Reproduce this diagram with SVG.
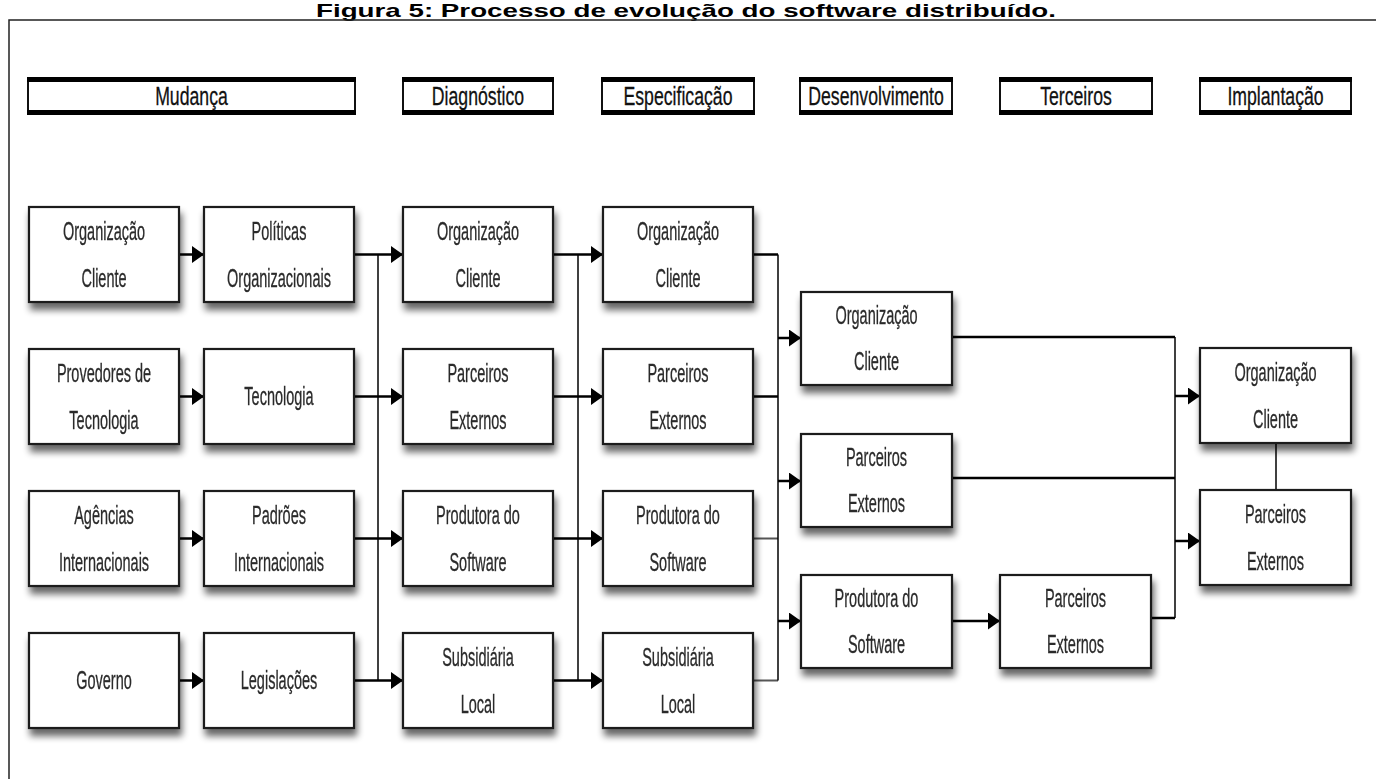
<svg xmlns="http://www.w3.org/2000/svg" width="1376" height="779" viewBox="0 0 1376 779">
<defs>
<filter id="sh" x="-10%" y="-10%" width="125%" height="140%">
<feGaussianBlur in="SourceAlpha" stdDeviation="3.5"/>
<feOffset dx="2" dy="7" result="b"/>
<feComponentTransfer><feFuncA type="linear" slope="0.6"/></feComponentTransfer>
<feMerge><feMergeNode/><feMergeNode in="SourceGraphic"/></feMerge>
</filter>
<marker id="ah" markerUnits="userSpaceOnUse" markerWidth="12" markerHeight="17" refX="12" refY="8.5" orient="auto">
<path d="M0,0 L12,8.5 L0,17 z" fill="#000"/>
</marker>
<style>
.box{fill:#fff;stroke:#1a1a1a;stroke-width:2.2}
.hbox{fill:#fff;stroke:#111;stroke-width:2}
.bar{fill:#000}
.t{font-family:"Liberation Sans",Arial,sans-serif;font-size:25px;fill:#2b2b2b;stroke:#2b2b2b;stroke-width:0.3;text-anchor:middle}
.h{font-family:"Liberation Sans",Arial,sans-serif;font-size:26px;fill:#111;stroke:#111;stroke-width:0.3;text-anchor:middle}
.title{font-family:"Liberation Sans",Arial,sans-serif;font-size:19px;font-weight:bold;fill:#000;text-anchor:middle}
.ln{fill:none;stroke:#000;stroke-width:2.5}
.lg{fill:none;stroke:#555;stroke-width:2}
.bus{fill:none;stroke:#000;stroke-width:1.5}
.arr{fill:none;stroke:#000;stroke-width:2.5;marker-end:url(#ah)}
</style>
</defs>
<rect width="1376" height="779" fill="#fff"/>
<text class="title" x="686" y="17" textLength="740" lengthAdjust="spacingAndGlyphs">Figura 5: Processo de evolução do software distribuído.</text>
<path d="M9,779 V20 H1376" fill="none" stroke="#222" stroke-width="1.5"/>

<g id="headers">
<g id="h-mudanca"><rect class="hbox" x="28" y="80" width="327" height="32"/><rect class="bar" x="27" y="77" width="329" height="5"/><rect class="bar" x="27" y="110" width="329" height="5"/><text class="h" transform="translate(191.5,105) scale(0.68,1)">Mudança</text></g>
<g id="h-diagnostico"><rect class="hbox" x="403" y="80" width="150" height="32"/><rect class="bar" x="402" y="77" width="152" height="5"/><rect class="bar" x="402" y="110" width="152" height="5"/><text class="h" transform="translate(478,105) scale(0.68,1)">Diagnóstico</text></g>
<g id="h-especificacao"><rect class="hbox" x="602" y="80" width="152" height="32"/><rect class="bar" x="601" y="77" width="154" height="5"/><rect class="bar" x="601" y="110" width="154" height="5"/><text class="h" transform="translate(678,105) scale(0.68,1)">Especificação</text></g>
<g id="h-desenvolvimento"><rect class="hbox" x="800" y="80" width="152" height="32"/><rect class="bar" x="799" y="77" width="154" height="5"/><rect class="bar" x="799" y="110" width="154" height="5"/><text class="h" transform="translate(876,105) scale(0.68,1)">Desenvolvimento</text></g>
<g id="h-terceiros"><rect class="hbox" x="1000" y="80" width="152" height="32"/><rect class="bar" x="999" y="77" width="154" height="5"/><rect class="bar" x="999" y="110" width="154" height="5"/><text class="h" transform="translate(1076,105) scale(0.68,1)">Terceiros</text></g>
<g id="h-implantacao"><rect class="hbox" x="1200" y="80" width="151" height="32"/><rect class="bar" x="1199" y="77" width="153" height="5"/><rect class="bar" x="1199" y="110" width="153" height="5"/><text class="h" transform="translate(1275.5,105) scale(0.68,1)">Implantação</text></g>
</g>

<g id="connectors">
<path class="arr" d="M179,254.5 H204"/>
<path class="arr" d="M179,396.5 H204"/>
<path class="arr" d="M179,538.5 H204"/>
<path class="arr" d="M179,680.5 H204"/>
<path class="bus" d="M378,254.5 V680.5"/>
<path class="arr" d="M354,254.5 H403"/>
<path class="arr" d="M354,396.5 H403"/>
<path class="arr" d="M354,538.5 H403"/>
<path class="arr" d="M354,680.5 H403"/>
<path class="bus" d="M578,254.5 V680.5"/>
<path class="arr" d="M553,254.5 H603"/>
<path class="arr" d="M553,396.5 H603"/>
<path class="arr" d="M553,538.5 H603"/>
<path class="arr" d="M553,680.5 H603"/>
<path class="ln" d="M753,254.5 H778"/>
<path class="ln" d="M753,396.5 H778"/>
<path class="lg" d="M753,538.5 H778"/>
<path class="lg" d="M753,680.5 H778"/>
<path class="bus" d="M778,254.5 V680.5"/>
<path class="arr" d="M778,338 H801"/>
<path class="arr" d="M778,481 H801"/>
<path class="arr" d="M778,621 H801"/>
<path class="arr" d="M952,621 H1000"/>
<path class="ln" d="M952,337 H1175"/>
<path class="ln" d="M952,478 H1175"/>
<path class="ln" d="M1151,618 H1175"/>
<path class="bus" d="M1175,337 V618"/>
<path class="arr" d="M1175,396 H1200"/>
<path class="arr" d="M1175,541 H1200"/>
<path class="bus" d="M1276,443 V490" stroke-width="1.2"/>
</g>

<g id="n-c1-org" filter="url(#sh)"><rect class="box" x="29" y="207" width="150" height="95"/><text class="t" transform="translate(104,240) scale(0.58,1)">Organização</text><text class="t" transform="translate(104,287) scale(0.58,1)">Cliente</text></g>
<g id="n-c1-prov" filter="url(#sh)"><rect class="box" x="29" y="349" width="150" height="95"/><text class="t" transform="translate(104,382) scale(0.58,1)">Provedores de</text><text class="t" transform="translate(104,429) scale(0.58,1)">Tecnologia</text></g>
<g id="n-c1-agen" filter="url(#sh)"><rect class="box" x="29" y="491" width="150" height="95"/><text class="t" transform="translate(104,524) scale(0.58,1)">Agências</text><text class="t" transform="translate(104,571) scale(0.58,1)">Internacionais</text></g>
<g id="n-c1-gov" filter="url(#sh)"><rect class="box" x="29" y="633" width="150" height="95"/><text class="t" transform="translate(104,689) scale(0.58,1)">Governo</text></g>

<g id="n-c2-pol" filter="url(#sh)"><rect class="box" x="204" y="207" width="150" height="95"/><text class="t" transform="translate(279,240) scale(0.58,1)">Políticas</text><text class="t" transform="translate(279,287) scale(0.58,1)">Organizacionais</text></g>
<g id="n-c2-tec" filter="url(#sh)"><rect class="box" x="204" y="349" width="150" height="95"/><text class="t" transform="translate(279,405) scale(0.58,1)">Tecnologia</text></g>
<g id="n-c2-pad" filter="url(#sh)"><rect class="box" x="204" y="491" width="150" height="95"/><text class="t" transform="translate(279,524) scale(0.58,1)">Padrões</text><text class="t" transform="translate(279,571) scale(0.58,1)">Internacionais</text></g>
<g id="n-c2-leg" filter="url(#sh)"><rect class="box" x="204" y="633" width="150" height="95"/><text class="t" transform="translate(279,689) scale(0.58,1)">Legislações</text></g>

<g id="n-c3-org" filter="url(#sh)"><rect class="box" x="403" y="207" width="150" height="95"/><text class="t" transform="translate(478,240) scale(0.58,1)">Organização</text><text class="t" transform="translate(478,287) scale(0.58,1)">Cliente</text></g>
<g id="n-c3-par" filter="url(#sh)"><rect class="box" x="403" y="349" width="150" height="95"/><text class="t" transform="translate(478,382) scale(0.58,1)">Parceiros</text><text class="t" transform="translate(478,429) scale(0.58,1)">Externos</text></g>
<g id="n-c3-prod" filter="url(#sh)"><rect class="box" x="403" y="491" width="150" height="95"/><text class="t" transform="translate(478,524) scale(0.58,1)">Produtora do</text><text class="t" transform="translate(478,571) scale(0.58,1)">Software</text></g>
<g id="n-c3-sub" filter="url(#sh)"><rect class="box" x="403" y="633" width="150" height="95"/><text class="t" transform="translate(478,666) scale(0.58,1)">Subsidiária</text><text class="t" transform="translate(478,713) scale(0.58,1)">Local</text></g>

<g id="n-c4-org" filter="url(#sh)"><rect class="box" x="603" y="207" width="150" height="95"/><text class="t" transform="translate(678,240) scale(0.58,1)">Organização</text><text class="t" transform="translate(678,287) scale(0.58,1)">Cliente</text></g>
<g id="n-c4-par" filter="url(#sh)"><rect class="box" x="603" y="349" width="150" height="95"/><text class="t" transform="translate(678,382) scale(0.58,1)">Parceiros</text><text class="t" transform="translate(678,429) scale(0.58,1)">Externos</text></g>
<g id="n-c4-prod" filter="url(#sh)"><rect class="box" x="603" y="491" width="150" height="95"/><text class="t" transform="translate(678,524) scale(0.58,1)">Produtora do</text><text class="t" transform="translate(678,571) scale(0.58,1)">Software</text></g>
<g id="n-c4-sub" filter="url(#sh)"><rect class="box" x="603" y="633" width="150" height="95"/><text class="t" transform="translate(678,666) scale(0.58,1)">Subsidiária</text><text class="t" transform="translate(678,713) scale(0.58,1)">Local</text></g>

<g id="n-c5-org" filter="url(#sh)"><rect class="box" x="801" y="292" width="151" height="93"/><text class="t" transform="translate(876.5,324) scale(0.58,1)">Organização</text><text class="t" transform="translate(876.5,370) scale(0.58,1)">Cliente</text></g>
<g id="n-c5-par" filter="url(#sh)"><rect class="box" x="801" y="434" width="151" height="93"/><text class="t" transform="translate(876.5,466) scale(0.58,1)">Parceiros</text><text class="t" transform="translate(876.5,512) scale(0.58,1)">Externos</text></g>
<g id="n-c5-prod" filter="url(#sh)"><rect class="box" x="801" y="575" width="151" height="93"/><text class="t" transform="translate(876.5,607) scale(0.58,1)">Produtora do</text><text class="t" transform="translate(876.5,653) scale(0.58,1)">Software</text></g>

<g id="n-c6-par" filter="url(#sh)"><rect class="box" x="1000" y="575" width="151" height="93"/><text class="t" transform="translate(1075.5,607) scale(0.58,1)">Parceiros</text><text class="t" transform="translate(1075.5,653) scale(0.58,1)">Externos</text></g>

<g id="n-c7-org" filter="url(#sh)"><rect class="box" x="1200" y="348" width="151" height="95"/><text class="t" transform="translate(1275.5,381) scale(0.58,1)">Organização</text><text class="t" transform="translate(1275.5,428) scale(0.58,1)">Cliente</text></g>
<g id="n-c7-par" filter="url(#sh)"><rect class="box" x="1200" y="490" width="151" height="95"/><text class="t" transform="translate(1275.5,523) scale(0.58,1)">Parceiros</text><text class="t" transform="translate(1275.5,570) scale(0.58,1)">Externos</text></g>
</svg>
